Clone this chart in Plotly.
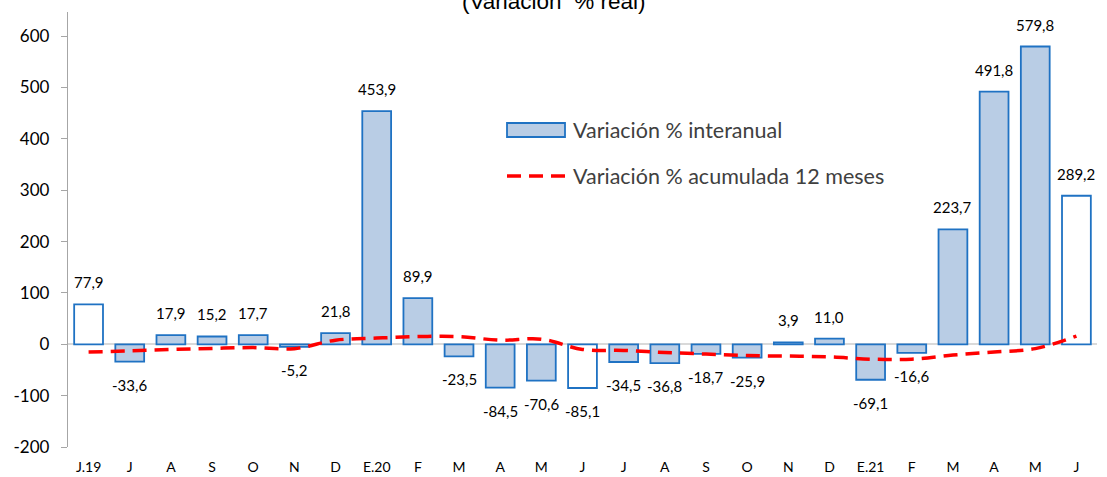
import plotly.graph_objects as go

categories = ["J.19", "J", "A", "S", "O", "N", "D", "E.20", "F", "M", "A", "M",
              "J", "J", "A", "S", "O", "N", "D", "E.21", "F", "M", "A", "M", "J"]
interanual = [77.9, -33.6, 17.9, 15.2, 17.7, -5.2, 21.8, 453.9, 89.9, -23.5, -84.5, -70.6,
              -85.1, -34.5, -36.8, -18.7, -25.9, 3.9, 11.0, -69.1, -16.6, 223.7, 491.8, 579.8, 289.2]
acumulada = [-15, -13, -10, -8, -6.5, -8.5, 8, 12, 15, 15, 8, 10,
             -10, -12, -16, -19, -22, -23, -24.5, -29, -29, -21, -15, -8.5, 16]
highlight_white = [0, 12, 24]
yticks = [-200, -100, 0, 100, 200, 300, 400, 500, 600]

W, H = 1107, 477
L, R, T, B = 68, 10, 12, 30
PW, PH = W - L - R, H - T - B

def px(x):
    return (x - L) / PW

def py(y):
    return (H - B - y) / PH

xs = list(range(len(categories)))
fills = ["#FFFFFF" if i in highlight_white else "#B9CDE5" for i in xs]
labels = [f"{v:.1f}".replace(".", ",") for v in interanual]

fig = go.Figure()
fig.add_trace(go.Bar(
    x=xs, y=interanual, width=0.7,
    marker=dict(color=fills, line=dict(color="#1F72C3", width=1.8)),
    cliponaxis=False, showlegend=False, hoverinfo="skip",
))
fig.add_trace(go.Scatter(
    x=xs, y=acumulada, mode="lines",
    line=dict(color="#FF0000", width=3.5, dash="14px,8px", shape="spline", smoothing=1),
    showlegend=False, hoverinfo="skip",
))

annotations = []
for i, (v, t) in enumerate(zip(interanual, labels)):
    annotations.append(dict(
        x=i, y=v, xref="x", yref="y", text=t, showarrow=False,
        yanchor="bottom" if v >= 0 else "top",
        yshift=11 if v >= 0 else -12,
        font=dict(family="Lato", size=15, color="#000000")))

# legend (drawn manually)
shapes = [
    dict(type="rect", xref="paper", yref="paper",
         x0=px(507), x1=px(565), y0=py(137), y1=py(123),
         fillcolor="#B9CDE5", line=dict(color="#1F72C3", width=1.8)),
    dict(type="line", xref="paper", yref="paper",
         x0=px(507), x1=px(566), y0=py(176), y1=py(176),
         line=dict(color="#FF0000", width=3.5, dash="14px,8px")),
]
annotations += [
    dict(text="Variación % interanual", xref="paper", yref="paper",
         x=px(571), y=py(130), xanchor="left", yanchor="middle", showarrow=False,
         font=dict(family="Lato", size=21.5, color="#404040")),
    dict(text="Variación % acumulada 12 meses", xref="paper", yref="paper",
         x=px(571), y=py(176), xanchor="left", yanchor="middle", showarrow=False,
         font=dict(family="Lato", size=21.5, color="#404040")),
    dict(text="(Variación  % real)", xref="paper", yref="paper",
         x=px(553), y=py(1), xanchor="center", yanchor="middle", showarrow=False,
         font=dict(family="Liberation Sans", size=22.5, color="#000000")),
]

fig.update_layout(
    width=W, height=H,
    margin=dict(l=L, r=R, t=T, b=B, pad=0, autoexpand=False),
    paper_bgcolor="#FFFFFF", plot_bgcolor="#FFFFFF",
    shapes=shapes, annotations=annotations,
    bargap=0.3, hovermode=False,
    xaxis=dict(range=[-0.5, len(categories) - 0.5], tickmode="array", tickvals=xs,
               ticktext=categories, showgrid=False, zeroline=False, showline=False,
               ticks="", ticklabelstandoff=10, automargin=False,
               tickfont=dict(family="Lato", size=14, color="#000000")),
    yaxis=dict(range=[-200, 647], tickmode="array", tickvals=yticks,
               ticktext=[str(v) for v in yticks], showgrid=False, automargin=False,
               zeroline=True, zerolinecolor="#D9D9D9", zerolinewidth=2,
               showline=True, linecolor="#A6A6A6", linewidth=1.3,
               ticks="outside", ticklen=6, tickcolor="#A6A6A6", tickwidth=1.3,
               ticklabelstandoff=8,
               tickfont=dict(family="Lato", size=17, color="#000000")),
)

fig.write_html("out.html", config={"displayModeBar": False},
               post_script="document.body.style.margin='0';document.body.style.overflow='hidden';")
